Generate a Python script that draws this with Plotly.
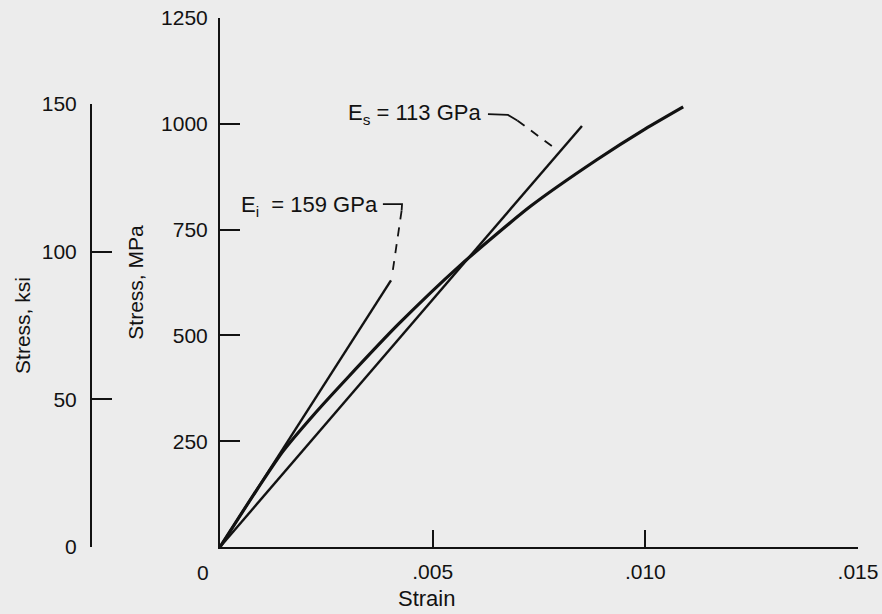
import plotly.graph_objects as go

# ---- data ----
curve_strain = [0, 0.0008, 0.00148, 0.0022, 0.0030, 0.0042, 0.00564, 0.0073, 0.00886, 0.0100, 0.01089]
curve_stress = [0, 125, 226, 312, 400, 527, 665, 805, 915, 988, 1040]

tangent_strain = [0, 0.00402]
tangent_stress = [0, 630]

secant_strain = [0, 0.00851]
secant_stress = [0, 995]

ei_leader_solid_x = [0.00383, 0.00428, 0.00427]
ei_leader_solid_y = [810, 810, 795]
ei_leader_dash_x = [0.00427, 0.00404]
ei_leader_dash_y = [795, 638]

es_leader_solid_x = [0.00630, 0.00677, 0.00699]
es_leader_solid_y = [1023, 1021, 1008]
es_leader_dash_x = [0.00699, 0.00790]
es_leader_dash_y = [1008, 940]

x_tickvals = [0.005, 0.010, 0.015]
x_ticktext = [".005", ".010", ".015"]
mpa_tickvals = [250, 500, 750, 1000, 1250]
ksi_tickvals = [0, 50, 100, 150]

BG = "#ececec"
INK = "#121212"
FONT = "Liberation Sans, Arial, sans-serif"
W, H = 882, 614

fig = go.Figure()

fig.add_trace(go.Scatter(x=curve_strain, y=curve_stress, mode="lines",
                         line=dict(color=INK, width=3.2, shape="spline", smoothing=0.6),
                         hoverinfo="skip", showlegend=False))
fig.add_trace(go.Scatter(x=tangent_strain, y=tangent_stress, mode="lines",
                         line=dict(color=INK, width=2.4), hoverinfo="skip", showlegend=False))
fig.add_trace(go.Scatter(x=secant_strain, y=secant_stress, mode="lines",
                         line=dict(color=INK, width=2.4), hoverinfo="skip", showlegend=False))
for xs, ys, dash in [(ei_leader_solid_x, ei_leader_solid_y, "solid"),
                     (ei_leader_dash_x, ei_leader_dash_y, "9px,8px"),
                     (es_leader_solid_x, es_leader_solid_y, "solid"),
                     (es_leader_dash_x, es_leader_dash_y, "9px,8px")]:
    fig.add_trace(go.Scatter(x=xs, y=ys, mode="lines",
                             line=dict(color=INK, width=1.8, dash=dash),
                             hoverinfo="skip", showlegend=False))

# dummy trace to host the ksi axis
fig.add_trace(go.Scatter(x=[0], y=[0], xaxis="x2", yaxis="y2", mode="markers",
                         marker=dict(opacity=0), hoverinfo="skip", showlegend=False))

tickfont = dict(family=FONT, size=21, color=INK)
titlefont = dict(family=FONT, size=21, color=INK)

fig.update_layout(
    width=W, height=H,
    paper_bgcolor=BG, plot_bgcolor="rgba(0,0,0,0)",
    margin=dict(l=0, r=0, t=0, b=0, autoexpand=False),
    font=dict(family=FONT, color=INK),
    xaxis=dict(domain=[220 / W, 858 / W], range=[0, 0.015], anchor="y",
               automargin=False,
               tickvals=x_tickvals, ticktext=x_ticktext, ticks="inside",
               ticklen=17, tickwidth=2, tickcolor=INK, showline=True,
               linecolor=INK, linewidth=2, showgrid=False, zeroline=False,
               tickfont=tickfont, ticklabelstandoff=5),
    yaxis=dict(domain=[1 - 547 / H, 1 - 18 / H], range=[0, 1250], anchor="x",
               automargin=False,
               tickvals=mpa_tickvals, ticks="inside", ticklen=20, tickwidth=2,
               tickcolor=INK, showline=True, linecolor=INK, linewidth=2,
               showgrid=False, zeroline=False, tickfont=tickfont,
               ticklabelstandoff=6,
               title=dict(text="Stress, MPa", font=titlefont, standoff=12)),
    xaxis2=dict(domain=[92 / W, 858 / W], range=[0, 1], anchor="y2", visible=False,
                automargin=False),
    yaxis2=dict(domain=[1 - 547 / H, 1 - 104 / H], range=[0, 150], anchor="x2",
                automargin=False,
                tickvals=ksi_tickvals, ticks="inside", ticklen=20, tickwidth=2,
                tickcolor=INK, showline=True, linecolor=INK, linewidth=2,
                showgrid=False, zeroline=False, tickfont=tickfont,
                ticklabelstandoff=9,
                title=dict(text="Stress, ksi", font=titlefont, standoff=5)),
)

ann_font = dict(family=FONT, size=22, color=INK)
fig.add_annotation(x=0.00376, y=806, xref="x", yref="y", text="E<sub>i</sub>  = 159 GPa",
                   showarrow=False, xanchor="right", yanchor="middle", font=ann_font)
fig.add_annotation(x=0.00618, y=1024, xref="x", yref="y", text="E<sub>s</sub> = 113 GPa",
                   showarrow=False, xanchor="right", yanchor="middle", font=ann_font)
fig.add_annotation(x=0, y=0, xref="x", yref="y", text="0", showarrow=False,
                   xanchor="center", yanchor="top", xshift=-17, yshift=-12, font=tickfont)
fig.add_annotation(x=426 / W, y=1 - 598 / H, xref="paper", yref="paper", text="Strain",
                   showarrow=False, xanchor="center", yanchor="middle",
                   font=dict(family=FONT, size=22, color=INK))

fig.write_html("out.html")
